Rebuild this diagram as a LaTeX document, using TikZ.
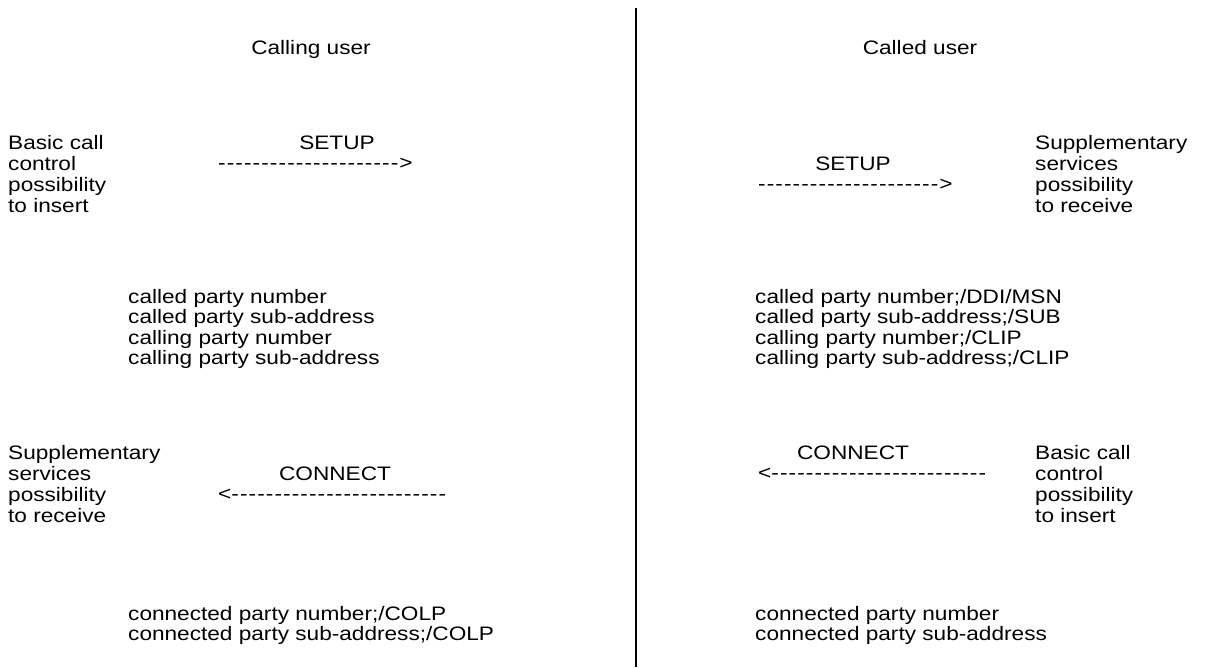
\documentclass[tikz,border=0pt]{standalone}
\usepackage{fontspec}
\setmainfont{Liberation Sans}[FakeStretch=1.16]
\newcommand\dashrow[1]{\count255=0 \loop-\kern1.1pt\advance\count255 by 1 \ifnum\count255<#1\repeat}
\begin{document}
\begin{tikzpicture}[x=1pt,y=-1pt,
  txt/.style={inner sep=0pt, anchor=base west, font=\fontsize{19.5}{21}\selectfont},
  ctxt/.style={txt, anchor=base}]
\useasboundingbox (0,0) rectangle (1220,667);
\fill[white] (0,0) rectangle (1220,667);
\coordinate (divtop) at (636,8);
\coordinate (divbot) at (636,667);
\draw[line width=2pt] (divtop) -- (divbot);
% headings
\node[ctxt] (callinguser) at (311,54) {Calling user};
\node[ctxt] (calleduser) at (920,54) {Called user};
% left top block
\node[txt] (la1) at (8,149) {Basic call};
\node[txt] (la2) at (8,170) {control};
\node[txt] (la3) at (8,191) {possibility};
\node[txt] (la4) at (8,212) {to insert};
\node[ctxt] (setupL) at (337,149) {SETUP};
\node[txt] (arrowL1) at (218,169) {\dashrow{21}>};
% right top block
\node[txt] (ra1) at (1035,149) {Supplementary};
\node[txt] (ra2) at (1035,170) {services};
\node[txt] (ra3) at (1035,191) {possibility};
\node[txt] (ra4) at (1035,212) {to receive};
\node[ctxt] (setupR) at (853,170) {SETUP};
\node[txt] (arrowR1) at (758,190) {\dashrow{21}>};
% middle blocks
\node[txt] (lm1) at (128,303) {called party number};
\node[txt] (lm2) at (128,323) {called party sub-address};
\node[txt] (lm3) at (128,344) {calling party number};
\node[txt] (lm4) at (128,364) {calling party sub-address};
\node[txt] (rm1) at (755,303) {called party number;/DDI/MSN};
\node[txt] (rm2) at (755,323) {called party sub-address;/SUB};
\node[txt] (rm3) at (755,344) {calling party number;/CLIP};
\node[txt] (rm4) at (755,364) {calling party sub-address;/CLIP};
% left lower block
\node[txt] (lb1) at (8,459) {Supplementary};
\node[txt] (lb2) at (8,480) {services};
\node[txt] (lb3) at (8,501) {possibility};
\node[txt] (lb4) at (8,522) {to receive};
\node[ctxt] (connectL) at (335,480) {CONNECT};
\node[txt] (arrowL2) at (218,500) {<\dashrow{25}};
% right lower block
\node[txt] (rb1) at (1035,459) {Basic call};
\node[txt] (rb2) at (1035,480) {control};
\node[txt] (rb3) at (1035,501) {possibility};
\node[txt] (rb4) at (1035,522) {to insert};
\node[ctxt] (connectR) at (853,459) {CONNECT};
\node[txt] (arrowR2) at (758,479) {<\dashrow{25}};
% bottom blocks
\node[txt] (lc1) at (128,620) {connected party number;/COLP};
\node[txt] (lc2) at (128,640) {connected party sub-address;/COLP};
\node[txt] (rc1) at (755,620) {connected party number};
\node[txt] (rc2) at (755,640) {connected party sub-address};
\end{tikzpicture}
\end{document}
